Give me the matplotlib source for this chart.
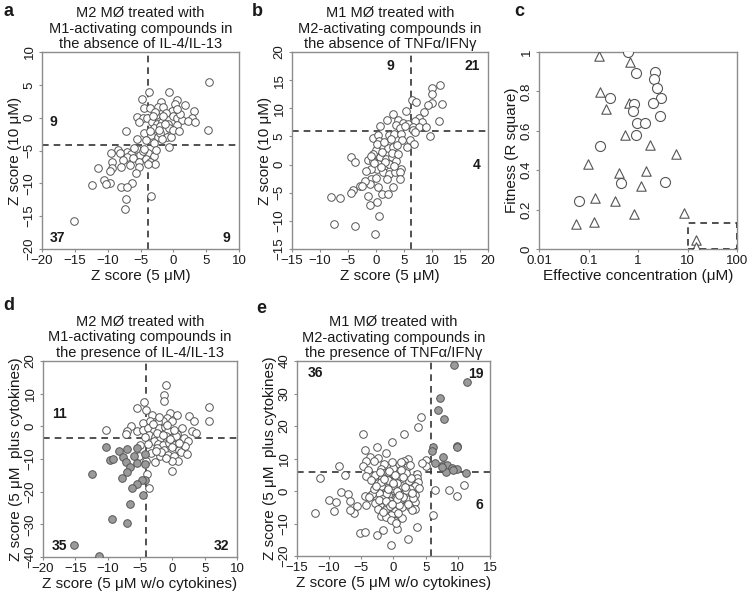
import matplotlib
matplotlib.use("Agg")
import matplotlib.pyplot as plt
from matplotlib.patches import Rectangle

plt.rcParams['font.family'] = ['Liberation Sans', 'DejaVu Sans']

# ---------------- Panel a data ----------------
a_x = [5.4, 5.3, -3.7, -0.6, -4.8, -1.9, 0.6, 0.2, 1.7, -4.5, -3.6, -2.4, -1.5, 3.1, -0.2,
       -5.6, -4.6, -4.0, -2.6, -1.1, -0.1, 0.5, 1.3, 2.8, 2.3, 3.3, -5.3, -3.3, -2.5, -1.7,
       -0.8, 0.5, -3.0, -2.0, -1.4, -0.6, -7.2, -4.5, -3.35, -2.3, -1.0, -0.4, -2.0, -3.55,
       -5.6, -4.1, -0.7, -2.8, -1.6, 0.0, -1.2, -2.2, 1.0, -3.1, 0.9, -1.8, -2.9, 0.6,
       -8.5, -7.1, -9.5, -8.1, -6.5, -5.5, -5.1, -3.8, -3.0, -7.0, -6.1, -5.3, -4.2, -3.55,
       -2.8, -9.4, -7.6, -7.9, -6.6, -5.2, -3.8, -9.4, -11.4, -9.7, -5.7, -10.5, -9.6, -10.2,
       -6.3, -12.4, -7.9, -7.0, -3.4, -7.2, -7.3, -15.2, -4.6, -6.0, -4.4, -2.6]
a_y = [5.4, -1.9, 3.9, 3.9, 2.8, 2.4, 2.7, 2.1, 1.9, 1.4, 1.4, 1.7, 1.6, 1.0, 1.0,
       0.15, -0.1, -0.1, 0.4, 0.75, 0.25, -0.1, -0.35, -0.1, -0.5, -0.6, -0.6, -0.6, -0.9, -0.6,
       -0.9, -1.1, -1.5, -1.3, -2.0, -1.6, -2.1, -2.3, -2.6, -3.0, -3.0, -3.0, -2.4, -2.0,
       -3.25, -3.4, -4.5, 0.9, 0.3, -1.9, -1.0, -1.9, 0.5, 0.2, -2.1, -3.3, -3.8, 1.3,
       -4.9, -5.2, -5.4, -5.4, -5.5, -4.8, -5.7, -5.4, -5.8, -6.0, -6.2, -6.7, -6.3, -6.7,
       -7.1, -6.7, -6.4, -7.5, -7.2, -7.5, -7.0, -7.6, -7.6, -8.1, -8.5, -9.5, -9.9, -10.1,
       -9.9, -10.3, -10.6, -10.6, -11.9, -12.4, -13.9, -15.7, -5.0, -4.6, -4.7, -4.9]
a_counts = ["9", "37", "9"]

# ---------------- Panel b data ----------------
b_x = [11.4, 10.0, 10.0, 11.8, 10.0, 9.3, 6.4, 7.2, 8.5, 3.1, 5.4, 11.3, 7.7, 8.2, 7.0,
       4.0, 1.9, 4.9, 5.8, 6.7, 7.6, 9.0, 6.6, 7.0, 3.5, 4.3, 0.7, -0.5, 0.4, 2.4,
       3.3, 4.5, 6.1, 6.8, 9.7, 5.5, 4.6, 0.6, 1.3, 2.2, 3.0, 3.8, 0.0, 0.1, -0.5,
       -1.4, -0.5, 0.7, 1.8, 2.8, 3.6, 0.4, 1.4, 2.4, 0.2, -0.8, 1.2, 2.4, 3.4, 4.4,
       4.3, -4.4, -3.8, -0.8, 0.0, -1.1, -2.0, -2.9, -4.1, -4.4, -8.1, -6.5, -1.5, 1.0,
       2.1, 3.0, 4.3, -1.0, 0.2, 0.6, -7.5, -3.8, -0.2, 1.0, 2.9, 1.6, 0.9, -0.3, 2.0,
       3.2, 1.5, -1.8, -0.9, 2.6, 4.0, 5.2, -2.5, 0.3]
b_y = [14.2, 13.6, 12.6, 10.7, 11.0, 10.5, 11.4, 11.1, 9.3, 9.0, 9.6, 7.7, 8.2, 7.6, 7.7,
       7.9, 7.9, 7.3, 7.2, 6.7, 6.7, 6.7, 6.1, 5.8, 7.0, 6.5, 6.8, 4.8, 5.2, 5.2,
       5.5, 5.5, 4.4, 3.7, 5.0, 3.1, 4.3, 4.2, 3.1, 3.0, 3.1, 3.4, 2.6, 3.7, 1.9,
       0.8, 0.7, 1.3, 1.0, 1.4, 0.7, 0.1, -0.2, 0.1, -0.8, -0.8, -1.4, -1.7, -1.4, -0.8,
       -1.4, 1.4, 0.5, -2.6, -2.3, -3.5, -3.0, -3.75, -4.6, -5.1, -5.7, -6.0, -5.5, -5.2,
       -5.2, -4.0, -2.6, -7.1, -6.7, -9.1, -10.5, -11.0, -12.4, 2.2, 2.0, 0.4, -0.5, 0.2, -2.5,
       -0.3, 4.0, -1.2, 1.6, 4.5, 1.9, 6.8, -3.8, -3.9]
b_counts = ["9", "21", "4"]

# ---------------- Panel c data ----------------
c_tri_x = [0.165, 0.695, 0.173, 0.66, 0.223, 0.553, 1.78, 5.8, 0.097, 0.41, 1.48, 1.15,
           0.133, 0.336, 0.82, 8.3, 0.057, 0.131, 14.8, 14.8]
c_tri_y = [0.978, 0.95, 0.797, 0.743, 0.711, 0.578, 0.53, 0.48, 0.43, 0.387, 0.395, 0.32,
           0.26, 0.245, 0.18, 0.184, 0.128, 0.135, 0.046, 0.012]
c_circ_x = [0.62, 0.93, 2.23, 2.1, 2.41, 0.27, 2.93, 0.82, 1.98, 0.785, 2.8, 0.97, 1.37,
            0.93, 0.173, 0.455, 3.5, 0.064]
c_circ_y = [1.0, 0.895, 0.899, 0.865, 0.819, 0.769, 0.764, 0.738, 0.742, 0.699, 0.677, 0.64,
            0.64, 0.581, 0.524, 0.333, 0.338, 0.243]
c_box = [10, 100, 0.0, 0.13]

# ---------------- Panel d data ----------------
d_open_x = [-1.0, -1.3, -1.3, 5.7, -4.4, -5.4, -4.1, -3.2, -0.4, 0.7, 2.6, 3.3, 5.6, -0.9,
            -1.4, -0.1, -4.6, -3.5, -2.2, -6.4, -7.0, -5.4, -10.2, -7.2, -4.6, -3.7, -2.8,
            -2.0, -1.1, -0.6, 0.8, 3.0, 3.7, 1.8, -3.6, -2.7, -1.9, -1.0, -0.1, -2.9, -2.2,
            -1.4, -0.5, 0.3, -3.8, -5.0, -2.4, -1.3, 0.0, 1.1, 1.4, -0.7, 0.3, 0.9, 0.0,
            -1.9, -2.7, -5.2, -4.1, -3.9, -3.6, -0.1, -1.0, 2.4, 1.5, -2.4, -0.8, 1.9, -3.0,
            -1.7, 0.5, 2.2, -4.3, -2.1, -3.3, -0.3, 1.0, -2.5, -1.5, 0.2]
d_open_y = [12.8, 9.5, 7.7, 5.9, 7.3, 5.6, 5.1, 3.6, 4.1, 3.6, 3.1, 1.7, 1.7, 2.6,
            1.7, 1.5, 1.0, 1.5, 1.3, 0.0, -1.3, -1.3, -1.0, -2.5, -1.0, -0.5, -1.3,
            -0.5, -0.3, -1.3, -2.3, -1.5, -2.0, -3.7, -2.8, -3.4, -3.6, -3.1, -3.6, -4.6, -5.4,
            -5.6, -5.1, -5.8, -5.4, -5.8, -6.6, -7.1, -6.4, -7.1, -8.0, -8.7, -9.2, -10.7, -10.7,
            -9.2, -11.0, -9.2, -10.7, -14.6, -18.9, -13.8, -9.7, -4.5, -0.5, -2.0, 0.5, -6.0, 0.8,
            -7.8, -3.0, -8.5, -3.2, 3.0, -8.2, -4.0, -5.2, -7.6, -2.8, -1.0]
d_gray_x = [-10.3, -8.2, -7.0, -5.4, -9.7, -9.2, -7.7, -7.2, -5.5, -4.2, -6.5, -7.0, -7.8,
            -4.2, -4.7, -5.5, -6.3, -4.5, -6.5, -12.4, -9.4, -7.0, -15.2, -11.3, -5.9, -4.3]
d_gray_y = [-6.3, -7.7, -6.9, -6.6, -10.4, -10.0, -9.5, -11.0, -11.2, -11.5, -12.6, -14.0,
            -15.8, -16.3, -16.3, -17.6, -18.9, -21.1, -23.7, -14.5, -28.4, -29.6, -36.4,
            -39.8, -9.0, -8.6]
d_counts = ["11", "35", "32"]

# ---------------- Panel e data ----------------
e_open_x = [-4.7, -4.4, -2.6, -0.3, -1.1, -3.65, -2.4, -4.3, -3.0, -1.4, -1.9, -4.7, -4.0,
            -8.4, -7.6, -11.5, -4.2, -2.9, -3.5, -2.4, -1.4, -0.6, -1.8, -2.6, -1.6, -2.1,
            -0.8, -8.1, -7.0, -4.4, -3.5, -2.6, -1.6, -0.3, -10.1, -8.9, -6.8, -5.7, -6.1,
            -6.8, -9.2, -12.2, -4.2, -2.9, -1.8, -0.8, -2.4, -1.3, -0.3, -5.2, -4.4, -2.5,
            -1.7, -0.4, 0.2,
            4.2, 3.8, 1.6, 5.1, 5.1, 2.2, 1.6, 0.8, 1.7, 2.1, 1.3, 0.5, 0.0, 1.0, 3.6,
            3.6, 3.8, 2.8, 3.4, 2.6, 1.3, 0.3, 0.0, 0.8, -0.8, 3.3, 2.1, 1.1, 3.4, -0.5,
            0.8, 2.5, 3.3, 2.9, -1.0, 0.3, 1.3, 0.5, 3.6, 2.3,
            6.5, 8.7, 9.8, 11.0, 6.1,
            -0.5, 0.2, -1.0, -1.5, -2.0, 0.6, 1.2, -0.2, -1.2, -2.2, 0.4, 1.6, 2.4, -0.6,
            -1.8, 0.9, 1.9, -0.3, -1.0, 0.2, 1.4, 2.7, -2.8, -3.3, 0.0, -0.9, 1.0, 2.0,
            -1.4, -0.4, 0.7, -2.0, -1.1, 1.5,
            -0.1, 0.5, -0.7, -1.3, 0.1, 0.9, -0.4, -1.9, -2.3, 0.3, 1.2, 2.6, 3.0, -3.0,
            -0.8, 0.6, -1.6, -0.2, 1.8, 2.3, -2.7, -1.2, 0.4, -0.6, 1.1, -3.8, 4.5, 4.0,
            -0.9, 0.0, 1.5, -1.5, 2.9, -2.1, 0.8, -0.3]
e_open_y = [17.6, 12.5, 13.7, 15.1, 11.7, 10.4, 10.2, 9.1, 9.1, 8.3, 6.9, 7.6, 6.6,
            7.6, 5.0, 4.0, 4.5, 5.0, 3.5, 2.5, 5.6, 4.0, 4.0, 0.9, 0.9, -0.6,
            -0.1, -0.4, -0.9, -1.4, -1.1, -2.2, -2.0, -2.2, -2.9, -3.4, -3.2, -4.7, -6.9,
            -5.7, -6.1, -6.8, -4.2, -3.7, -5.0, -4.2, -5.5, -7.3, -6.5, -12.9, -12.6, -13.4,
            -12.1, -16.7, -9.3,
            22.9, 19.8, 17.6, 9.4, 7.8, 9.8, 9.3, 8.0, 8.0, 7.3, 6.8, 6.2, 5.2, 5.2, 5.2,
            3.9, 2.7, 2.2, 1.4, 0.7, 1.7, 1.9, 0.2, -0.8, -1.3, -1.3, -2.4, -2.9, -3.4, -4.5,
            -4.9, -4.9, -5.6, -5.9, -6.3, -6.8, -8.4, -11.6, -11.1, -14.9,
            0.4, 0.4, -1.6, 1.8, -7.3,
            3.0, 3.5, 2.0, 3.2, 1.5, 2.5, 4.5, 1.0, -1.0, -0.5, -2.0, -0.8, 3.0, -3.0,
            -2.5, -3.5, 0.3, -4.0, -4.8, -6.0, -5.0, 4.0, 1.0, -1.0, 7.0, 6.0, 4.5, 5.5,
            -6.0, -7.5, -6.8, -7.8, -8.0, -1.8,
            1.8, 0.0, 6.2, -5.8, -3.6, -4.3, -8.8, 2.8, -2.8, 4.8, 9.0, 7.9, -2.2, 0.5,
            3.3, -2.6, -6.5, 8.8, 1.2, -4.0, 1.6, -3.2, -9.8, -4.6, 6.5, -1.8, 8.6, 0.9,
            0.6, 2.4, 4.2, 3.7, -0.5, 5.8, -1.1, -3.9]
e_gray_x = [9.45, 11.5, 7.3, 6.9, 7.9, 6.2, 9.8, 9.8, 7.7, 6.0, 6.4, 7.7, 8.3, 9.1, 9.8,
            8.2, 11.3, 7.5, 9.3]
e_gray_y = [38.7, 33.4, 28.6, 25.0, 22.1, 13.7, 14.0, 13.4, 10.5, 12.2, 8.5, 7.9, 7.9, 7.1,
            6.9, 5.9, 5.5, 7.5, 6.6]
e_counts = ["36", "19", "6"]

# ---------------- styling helpers ----------------
SP = '#8c8c8c'
EDGE = '#555555'
GRAY = '#9a9a9a'
TXT = '#1a1a1a'
MS = 30

fig = plt.figure(figsize=(7.5, 5.95), dpi=100)


def style(ax):
    for s in ax.spines.values():
        s.set_color(SP)
        s.set_linewidth(1.0)
    ax.tick_params(direction='out', length=2.5, width=0.8, color=SP,
                   labelsize=9.5, labelcolor=TXT, pad=2)
    for lbl in ax.get_yticklabels():
        lbl.set_rotation(90)
        lbl.set_va('center')


def scatter_open(ax, x, y, s=MS):
    ax.scatter(x, y, s=s, facecolors='white', edgecolors=EDGE, linewidths=0.7, zorder=3)


def scatter_gray(ax, x, y, s=MS):
    ax.scatter(x, y, s=s, facecolors=GRAY, edgecolors=EDGE, linewidths=0.7, zorder=4)


def dash(ax, vx, hy):
    ax.axvline(vx, color='#333333', lw=1.2, ls=(0, (4, 3)), zorder=2)
    ax.axhline(hy, color='#333333', lw=1.2, ls=(0, (4, 3)), zorder=2)


def title(ax, t):
    ax.set_title(t, fontsize=10.5, color=TXT, linespacing=1.12, pad=3)


def count(ax, x, y, t, ha='left'):
    ax.text(x, y, t, fontsize=10, fontweight='bold', color=TXT, ha=ha, va='center', zorder=5)


# ---------------- Panel a ----------------
ax = fig.add_axes([0.056, 0.5815, 0.2627, 0.3311])
scatter_open(ax, a_x, a_y)
dash(ax, -3.9, -4.2)
ax.set_xlim(-20, 10)
ax.set_ylim(-20, 10)
ax.set_xticks(range(-20, 11, 5))
ax.set_yticks(range(-20, 11, 5))
style(ax)
title(ax, "M2 MØ treated with\nM1-activating compounds in\nthe absence of IL-4/IL-13")
ax.set_xlabel("Z score (5 μM)", fontsize=11, color=TXT, labelpad=1)
ax.set_ylabel("Z score (10 μM)", fontsize=11, color=TXT, labelpad=1)
count(ax, -18.8, -0.6, a_counts[0])
count(ax, -18.8, -18.3, a_counts[1])
count(ax, 8.6, -18.3, a_counts[2], ha='right')

# ---------------- Panel b ----------------
ax = fig.add_axes([0.3893, 0.5815, 0.2613, 0.3311])
scatter_open(ax, b_x, b_y)
dash(ax, 6.2, 6.0)
ax.set_xlim(-15, 20)
ax.set_ylim(-15, 20)
ax.set_xticks(range(-15, 21, 5))
ax.set_yticks(range(-15, 21, 5))
style(ax)
title(ax, "M1 MØ treated with\nM2-activating compounds in\nthe absence of TNFα/IFNγ")
ax.set_xlabel("Z score (5 μM)", fontsize=11, color=TXT, labelpad=1)
ax.set_ylabel("Z score (10 μM)", fontsize=11, color=TXT, labelpad=1)
count(ax, 2.5, 17.6, b_counts[0], ha='center')
count(ax, 18.6, 17.6, b_counts[1], ha='right')
count(ax, 18.6, 0.0, b_counts[2], ha='right')

# ---------------- Panel c ----------------
ax = fig.add_axes([0.7187, 0.5815, 0.2640, 0.3311])
ax.set_xscale('log')
ax.scatter(c_tri_x, c_tri_y, s=46, marker='^', facecolors='white', edgecolors=EDGE,
           linewidths=0.8, zorder=3)
ax.scatter(c_circ_x, c_circ_y, s=52, marker='o', facecolors='white', edgecolors=EDGE,
           linewidths=0.8, zorder=3)
ax.add_patch(Rectangle((c_box[0], c_box[2]), c_box[1] - c_box[0], c_box[3] - c_box[2],
                       fill=False, ec='#333333', lw=1.2, ls=(0, (4, 3)), zorder=4))
ax.set_xlim(0.01, 100)
ax.set_ylim(0, 1)
ax.set_xticks([0.01, 0.1, 1, 10, 100])
ax.set_xticklabels(["0.01", "0.1", "1", "10", "100"])
ax.minorticks_off()
ax.set_yticks([0, 0.2, 0.4, 0.6, 0.8, 1.0])
ax.set_yticklabels(["0", "0.2", "0.4", "0.6", "0.8", "1"])
style(ax)
ax.set_xlabel("Effective concentration (μM)", fontsize=11, color=TXT, labelpad=1)
ax.set_ylabel("Fitness (R square)", fontsize=11, color=TXT, labelpad=1)

# ---------------- Panel d ----------------
ax = fig.add_axes([0.0573, 0.0639, 0.2587, 0.3294])
scatter_open(ax, d_open_x, d_open_y)
scatter_gray(ax, d_gray_x, d_gray_y)
dash(ax, -4.1, -3.6)
ax.set_xlim(-20, 10)
ax.set_ylim(-40, 20)
ax.set_xticks(range(-20, 11, 5))
ax.set_yticks(range(-40, 21, 10))
style(ax)
title(ax, "M2 MØ treated with\nM1-activating compounds in\nthe presence of IL-4/IL-13")
ax.set_xlabel("Z score (5 μM w/o cytokines)", fontsize=11, color=TXT, labelpad=1)
ax.set_ylabel("Z score (5 μM  plus cytokines)", fontsize=11, color=TXT, labelpad=1)
count(ax, -18.6, 3.8, d_counts[0])
count(ax, -18.6, -36.5, d_counts[1])
count(ax, 8.8, -36.5, d_counts[2], ha='right')

# ---------------- Panel e ----------------
ax = fig.add_axes([0.396, 0.0655, 0.2573, 0.3277])
scatter_open(ax, e_open_x, e_open_y)
scatter_gray(ax, e_gray_x, e_gray_y)
dash(ax, 5.9, 6.0)
ax.set_xlim(-15, 15)
ax.set_ylim(-20, 40)
ax.set_xticks(range(-15, 16, 5))
ax.set_yticks(range(-20, 41, 10))
style(ax)
title(ax, "M1 MØ treated with\nM2-activating compounds in\nthe presence of TNFα/IFNγ")
ax.set_xlabel("Z score (5 μM w/o cytokines)", fontsize=11, color=TXT, labelpad=1)
ax.set_ylabel("Z score (5 μM  plus cytokines)", fontsize=11, color=TXT, labelpad=1)
count(ax, -13.3, 36.3, e_counts[0])
count(ax, 14.0, 36.0, e_counts[1], ha='right')
count(ax, 14.0, -4.2, e_counts[2], ha='right')

# ---------------- panel letters ----------------
for lt, px, py in [("a", 3, 12), ("b", 252, 12), ("c", 514, 12), ("d", 3, 306), ("e", 256, 308)]:
    fig.text(px / 750, 1 - py / 595, lt, fontsize=13, fontweight='bold', color=TXT,
             ha='left', va='center')

fig.savefig("out.png", dpi=100)
